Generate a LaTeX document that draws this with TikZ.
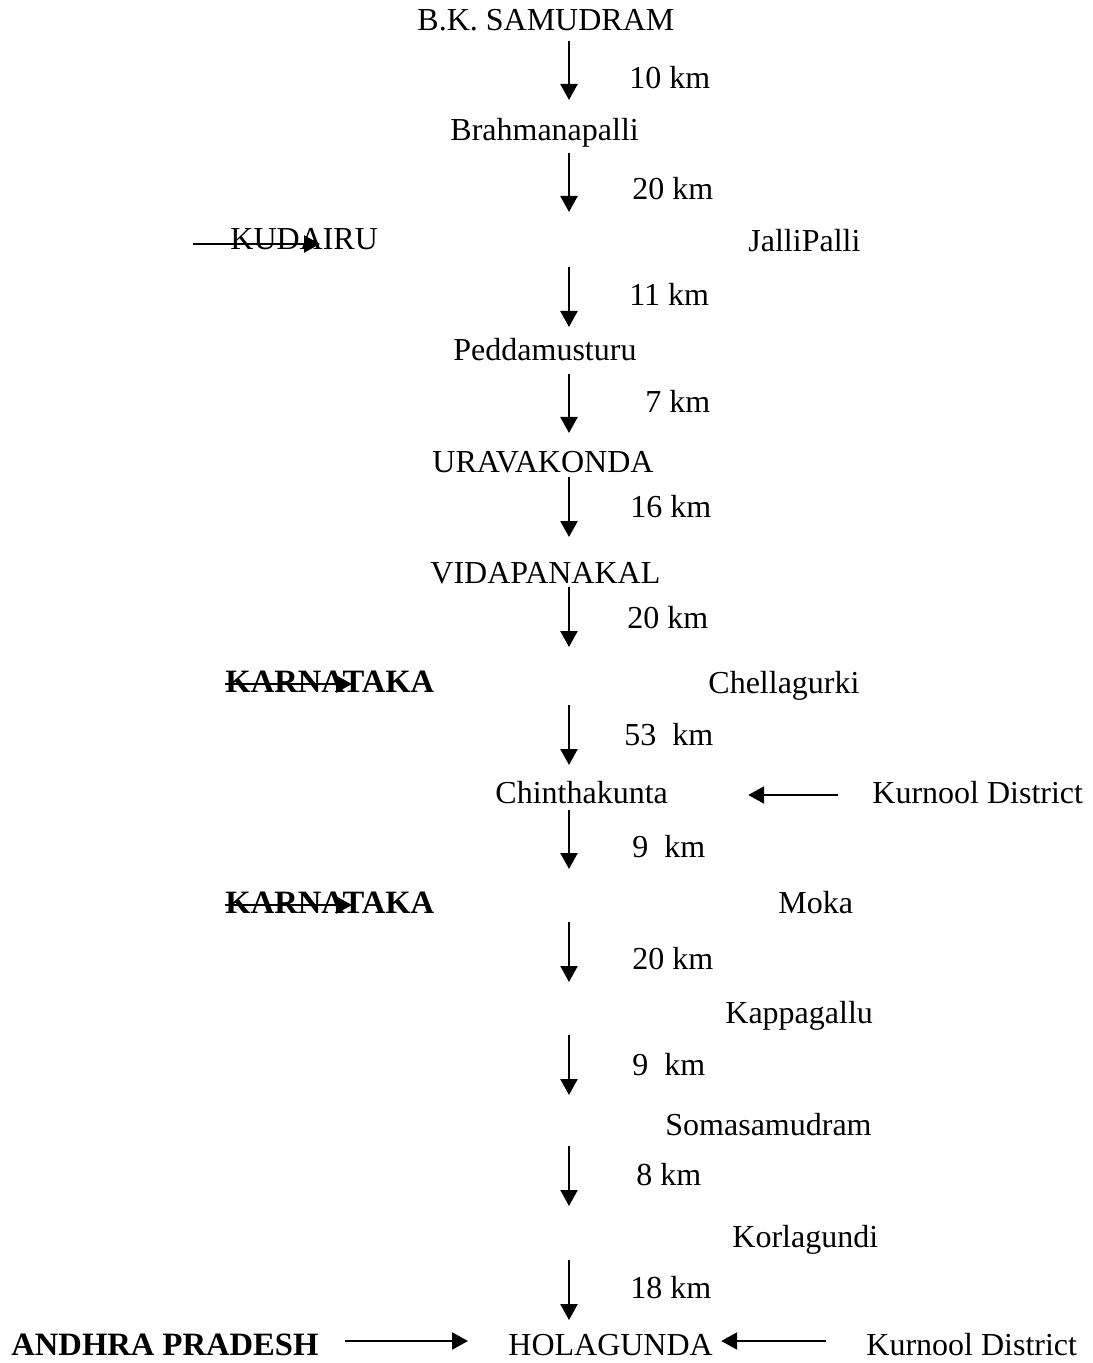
\documentclass[tikz,border=0pt]{standalone}
\usepackage{fontspec}
\setmainfont{Liberation Serif}
\usetikzlibrary{arrows.meta}
\tikzset{
  place/.style={anchor=base west, inner sep=0pt, text height=11.5pt, text depth=3.5pt,
    font=\fontsize{16}{19}\selectfont},
  state/.style={place, font=\fontsize{16.3}{19}\selectfont\bfseries},
  dist/.style={place},
  road/.style={line width=1.2pt, -{Triangle[length=8pt, width=8.5pt]}},
}

\begin{document}
\begin{tikzpicture}[x=0.5pt, y=-0.5pt]
  \useasboundingbox (0,0) rectangle (1092,1363);
  % stops along the road
  \node[place] (bk)   at (417,31)   {B.K. SAMUDRAM};
  \node[place] (brah) at (450,141)  {Brahmanapalli};
  \node[place] (kud)  at (230,250)  {KUDAIRU};
  \node[place] (jal)  at (748,252)  {JalliPalli};
  \node[place] (pedd) at (453,361)  {Peddamusturu};
  \node[place] (urav) at (432,472)  {URAVAKONDA};
  \node[place] (vida) at (430,583)  {VIDAPANAKAL};
  \node[state] (kar1) at (225,692)  {KARNATAKA};
  \node[place] (chel) at (708,693)  {Chellagurki};
  \node[place] (chin) at (495,803)  {Chinthakunta};
  \node[place] (kur1) at (872,803)  {Kurnool District};
  \node[state] (kar2) at (225,913)  {KARNATAKA};
  \node[place] (moka) at (778,913)  {Moka};
  \node[place] (kapp) at (725,1023) {Kappagallu};
  \node[place] (soma) at (665,1135) {Somasamudram};
  \node[place] (korl) at (732,1247) {Korlagundi};
  \node[state] (ap)   at (11,1355)  {ANDHRA PRADESH};
  \node[place] (hola) at (508,1355) {HOLAGUNDA};
  \node[place] (kur2) at (866,1355) {Kurnool District};

  % the spine with its distances
  \foreach \i/\a/\b/\d/\lx/\ly in {
      1/41/100/10 km/629/89,
      2/153/212/20 km/632/200,
      3/267/327/11 km/629/306,
      4/374/433/7 km/645/413,
      5/477/537/16 km/630/517,
      6/587/647/20 km/627/628,
      7/705/765/53~~km/624/745,
      8/810/869/9~~km/632/857,
      9/922/982/20 km/632/969,
      10/1035/1095/9~~km/632/1075,
      11/1146/1206/8 km/636/1185,
      12/1260/1320/18 km/630/1298} {
    \coordinate (t\i) at (569,\a);
    \coordinate (h\i) at (569,\b);
    \draw[road] (t\i) -- (h\i);
    \node[dist] (km\i) at (\lx,\ly) {\d};
  }

  % side arrows
  \draw[road] ([xshift=-18.5pt, yshift=-1pt]kud.west) -- ++(63.5pt,0);
  \draw[road] (kar1.west) -- ++(63.5pt,0);
  \draw[road] (kar2.west) -- ++(63.5pt,0);
  \draw[road, shorten <=17pt, shorten >=40pt] (kur1.west) -- (chin.east);
  \draw[road, shorten <=13pt, shorten >=20pt] ([yshift=3pt]ap.east) -- ([yshift=3pt]hola.west);
  \draw[road, shorten <=20pt, shorten >=4pt] ([yshift=3pt]kur2.west) -- ([yshift=3pt]hola.east);
\end{tikzpicture}
\end{document}
